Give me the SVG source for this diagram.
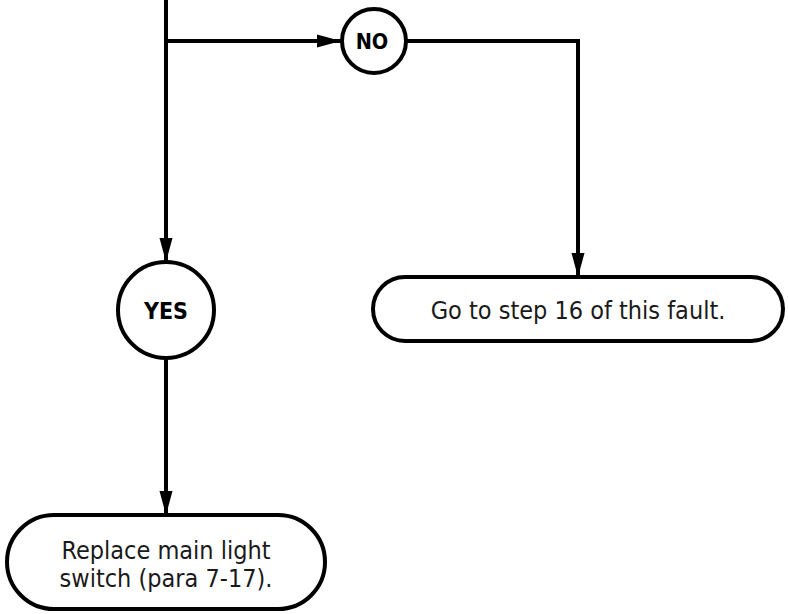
<svg xmlns="http://www.w3.org/2000/svg" width="788" height="614" viewBox="0 0 788 614">
<style>
.shape{fill:#fff;stroke:#000;stroke-width:4}
.line{fill:none;stroke:#000;stroke-width:4}
.t{font-family:"DejaVu Sans Condensed","DejaVu Sans",sans-serif;font-size:25px;fill:#1a1a1a;text-anchor:middle}
.b{font-weight:bold;fill:#000}
</style>
<defs>
<marker id="arr" markerWidth="24" markerHeight="14" refX="24" refY="7" orient="auto" markerUnits="userSpaceOnUse">
<path d="M0,0.5 L24,7 L0,13.5 Z" fill="#000"/>
</marker>
</defs>
<g id="connectors">
<path class="line" d="M166,0 V262" marker-end="url(#arr)"/>
<path class="line" d="M166,41 H341" marker-end="url(#arr)"/>
<path class="line" d="M406,41 H578 V277" marker-end="url(#arr)"/>
<path class="line" d="M166,358 V515" marker-end="url(#arr)"/>
</g>
<g id="no">
<circle class="shape" cx="374" cy="41" r="32"/>
<text class="t b" x="372" y="49" style="font-size:21.5px">NO</text>
</g>
<g id="yes">
<circle class="shape" cx="166" cy="310" r="48"/>
<text class="t b" x="166" y="319" style="font-size:23px">YES</text>
</g>
<g id="goto">
<rect class="shape" x="373" y="277" width="410" height="64" rx="32"/>
<text class="t" x="578" y="319">Go to step 16 of this fault.</text>
</g>
<g id="replace">
<rect class="shape" x="7" y="515" width="318" height="94" rx="47"/>
<text class="t" x="166" y="559">Replace main light</text>
<text class="t" x="166" y="587">switch (para 7-17).</text>
</g>
</svg>
